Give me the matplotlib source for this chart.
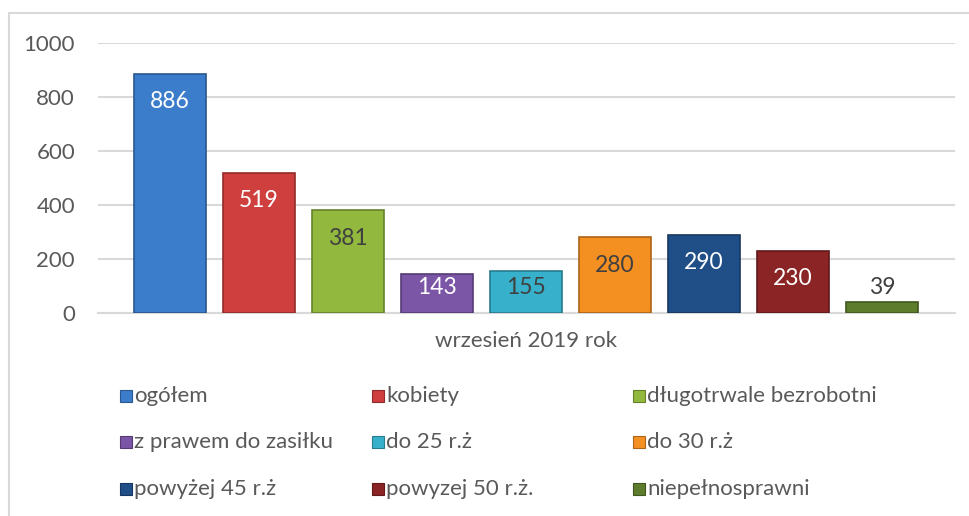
import matplotlib
matplotlib.use("Agg")
import matplotlib.pyplot as plt
from matplotlib.patches import Rectangle
import matplotlib.colors as mcolors

categories = ["ogółem", "kobiety", "długotrwale bezrobotni",
              "z prawem do zasiłku", "do 25 r.ż", "do 30 r.ż",
              "powyżej 45 r.ż", "powyzej 50 r.ż.", "niepełnosprawni"]
values = [886, 519, 381, 143, 155, 280, 290, 230, 39]
colors = ["#3C7DCB", "#CE3F3D", "#93B83E", "#7B55A6", "#37B1CB",
          "#F48F22", "#204F88", "#8B2424", "#5E7D2C"]
label_colors = ["white", "white", "#404040", "white", "#404040",
                "#404040", "white", "white", "#404040"]
group_label = "wrzesień 2019 rok"
yticks = [0, 200, 400, 600, 800, 1000]

plt.rcParams['font.family'] = ['Lato', 'DejaVu Sans']
txt = "#595959"

fig = plt.figure(figsize=(9.7, 5.16), dpi=100)
W, H = 970, 516
ax = fig.add_axes([98 / W, 1 - 313 / H, (955 - 98) / W, (313 - 43) / H])

width = 0.81
for i, (v, c) in enumerate(zip(values, colors)):
    rgb = mcolors.to_rgb(c)
    dark = tuple(ch * 0.7 for ch in rgb)
    ax.bar(i, v, width=width, color=c, edgecolor=dark, linewidth=1.2, zorder=3)
    ly = v - 104 if v >= 200 else 96
    ax.text(i, ly, str(v), ha="center", va="center", fontsize=16.5,
            color=label_colors[i], zorder=4)

ax.set_xlim(-0.809, 8.82)
ax.set_ylim(0, 1000)
ax.set_yticks(yticks)
ax.set_yticklabels([str(t) for t in yticks], fontsize=16, color=txt)
ax.set_xticks([4])
ax.set_xticklabels([group_label], fontsize=16, color=txt)
ax.tick_params(axis="both", length=0)
ax.tick_params(axis="y", pad=16.5)
ax.tick_params(axis="x", pad=13)
ax.grid(axis="y", color="#D9D9D9", linewidth=1.5, zorder=0)
for s in ["top", "right", "left"]:
    ax.spines[s].set_visible(False)
ax.spines["bottom"].set_color("#D9D9D9")
ax.spines["bottom"].set_linewidth(1.5)

# frame
fig.patches.append(Rectangle((9 / W, -0.5), 2, 1.5 - 13 / H, transform=fig.transFigure,
                             fill=False, edgecolor="#D9D9D9", linewidth=1.5))

# legend (row-wise, 3 columns)
col_x = [120, 372, 633]
row_y = [396, 442, 489]
sq = 12
for k, (name, c) in enumerate(zip(categories, colors)):
    r, cidx = divmod(k, 3)
    px, py = col_x[cidx], row_y[r]
    dark = tuple(ch * 0.7 for ch in mcolors.to_rgb(c))
    fig.patches.append(Rectangle((px / W, 1 - (py + sq / 2) / H), sq / W, sq / H,
                                 transform=fig.transFigure, facecolor=c,
                                 edgecolor=dark, linewidth=0.8))
    fig.text((px + sq + 2) / W, 1 - py / H, name, ha="left", va="center",
             fontsize=16, color=txt)

fig.savefig("out.png", dpi=100)
